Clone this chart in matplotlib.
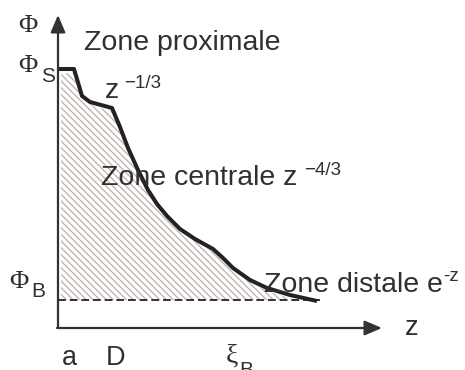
import numpy as np
import matplotlib
matplotlib.use("Agg")
import matplotlib.pyplot as plt

plt.rcParams["hatch.linewidth"] = 1.0
plt.rcParams["hatch.color"] = "#c2b4b0"

# Concentration profile Phi(z) along the jet axis
z_profile = [0, 16, 24, 32, 54, 62, 70, 80, 90, 99, 109, 122, 137, 155, 165, 175, 192, 209, 232, 259]
phi_profile = [259, 259, 232, 226, 220, 201, 180, 158, 138, 124, 112, 99, 89, 79, 70, 60, 48, 40, 33, 27]
phi_B = 28
z_end = 262

TXT = "#303030"
SANS = "Liberation Sans"
SERIF = "Liberation Serif"

fig = plt.figure(figsize=(4.65, 3.70), dpi=100)
ax = fig.add_axes([0, 0, 1, 1])
ax.set_xlim(-58, 407)
ax.set_ylim(-42, 328)
ax.axis("off")

z = np.array(z_profile, dtype=float)
phi = np.array(phi_profile, dtype=float)

# hatched area under the profile, down to the background level
ax.fill_between(z + 3, phi - 4, phi_B, where=phi >= phi_B, interpolate=True,
                facecolor="white", edgecolor="#c2b4b0", hatch="\\\\\\\\\\", linewidth=0)

# background level
ax.plot([0, z_end], [phi_B, phi_B], color="#333333", lw=1.4, dashes=(4, 2))

# profile
ax.plot(z, phi, color="#222222", lw=2.9, solid_joinstyle="round", solid_capstyle="butt")

# axes with arrows
ax.annotate("", xy=(0, 313), xytext=(0, 0),
            arrowprops=dict(arrowstyle="-|>,head_length=0.75,head_width=0.32",
                            mutation_scale=14, lw=1.6, color="#333333",
                            shrinkA=0, shrinkB=0))
ax.annotate("", xy=(324, 0), xytext=(-1, 0),
            arrowprops=dict(arrowstyle="-|>,head_length=0.75,head_width=0.32",
                            mutation_scale=14, lw=1.6, color="#333333",
                            shrinkA=0, shrinkB=0))

def txt(x, y, s, size, family=SANS, **kw):
    ax.text(x - 58, 328 - y, s, fontsize=size, family=family, color=TXT,
            ha="left", va="baseline", **kw)

# axis labels
txt(18, 32, "\u03a6", 19, SERIF)
txt(18, 72, "\u03a6", 19, SERIF)
txt(41, 82, "S", 15)
txt(9, 288, "\u03a6", 19, SERIF)
txt(31, 297, "B", 15)
txt(405, 335, "z", 19.5)
txt(62, 365, "a", 19.5)
txt(106, 365, "D", 19.5)
txt(226, 362, "\u03be", 20, SERIF)
txt(239, 376, "B", 15)

# zone annotations
txt(84, 50, "Zone proximale", 20.5)
txt(105, 98, "z", 20.5)
txt(124, 88, "\u22121/3", 13.5)
txt(101, 185, "Zone centrale z", 20.5)
txt(304, 175, "\u22124/3", 13.5)
txt(264, 292, "Zone distale e", 20.5)
txt(443, 281, "-z", 13.5)

fig.savefig("out.png", dpi=100)
